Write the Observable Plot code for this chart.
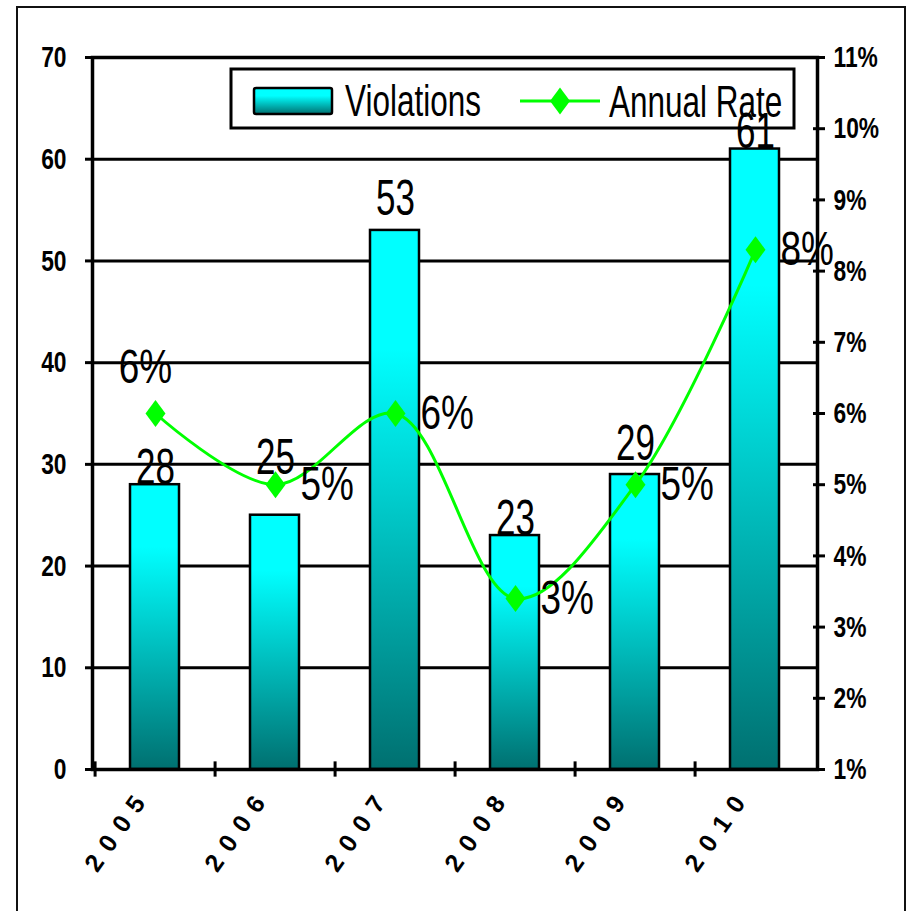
<!DOCTYPE html>
<html><head><meta charset="utf-8">
<script src="https://cdn.jsdelivr.net/npm/d3@7"></script>
<script src="https://cdn.jsdelivr.net/npm/@observablehq/plot@0.6"></script>
<style>
body{margin:0;background:#fff;}
#wrap{position:relative;width:909px;height:911px;overflow:hidden;background:#fff;}
#legend,#chart{position:absolute;left:0;top:0;}
#frame{position:absolute;left:16px;top:6px;width:890px;height:930px;border:2px solid #111;box-sizing:border-box;pointer-events:none;}
</style></head>
<body><div id="wrap"><svg id="legend" width="909" height="911"></svg><div id="chart"></div><div id="frame"></div></div>
<script>
// ---- data ----
const years = ["2005", "2006", "2007", "2008", "2009", "2010"];
const violations = [28, 25, 53, 23, 29, 61];
const rates = [6.0, 5.0, 6.0, 3.4, 5.0, 8.3];           // annual rate, %
const rateLabels = ["6%", "5%", "6%", "3%", "5%", "8%"];
const leftTicks = [0, 10, 20, 30, 40, 50, 60, 70];
const rightTicks = [1, 2, 3, 4, 5, 6, 7, 8, 9, 10, 11];  // %
const seriesNames = ["Violations", "Annual Rate"];

// right axis (1%..11%) mapped onto left axis (0..70)
const toLeft = r => (r - 1) * 7;
const table = years.map((y, i) => ({year: y, v: violations[i], r: rates[i], rv: toLeft(rates[i]), label: rateLabels[i]}));

const W = 909, H = 911, ML = 92, MR = 92, MT = 57, MB = 142;
const step = (W - ML - MR) / years.length;
const FONT = "'Liberation Sans', Arial, sans-serif";
const GREEN = "#00FF00";

const diamond = {
  draw(ctx, size) {
    const s = Math.sqrt(size / Math.PI);
    ctx.moveTo(0, -1.35 * s); ctx.lineTo(s, 0); ctx.lineTo(0, 1.35 * s); ctx.lineTo(-s, 0); ctx.closePath();
  }
};

const defs = () => {
  const d = d3.create("svg:defs");
  const g = d.append("linearGradient").attr("id", "barGrad").attr("x1", 0).attr("y1", 0).attr("x2", 0).attr("y2", 1);
  g.append("stop").attr("offset", "0%").attr("stop-color", "#00FFFF");
  g.append("stop").attr("offset", "22%").attr("stop-color", "#00FFFF");
  g.append("stop").attr("offset", "100%").attr("stop-color", "#007070");
  return d.node();
};

// value labels: the original has hand-nudged label heights
const barLabel = (years, dy) => Plot.text(table, {
  filter: d => years.includes(d.year), x: "year", y: "v", text: d => String(d.v),
  lineAnchor: "bottom", dy, fontSize: 50, fill: "black"
});

const chart = Plot.plot({
  width: W, height: H,
  marginLeft: ML, marginRight: MR, marginTop: MT, marginBottom: MB,
  style: {fontFamily: FONT, background: "transparent", color: "black", overflow: "visible"},
  x: {domain: years, padding: 0, label: null},
  y: {domain: [0, 70], label: null},
  marks: [
    defs,
    Plot.ruleY(leftTicks.filter(t => t > 0 && t < 70), {stroke: "black", strokeWidth: 3}),
    Plot.barY(table, {x: "year", y: "v", fill: "url(#barGrad)", stroke: "black", strokeWidth: 2.5, insetLeft: 35, insetRight: 36}),
    Plot.frame({stroke: "black", strokeWidth: 3.5}),
    Plot.ruleX(years, {x: d => d, dx: -step / 2, y1: -0.75, y2: 0.75, stroke: "black", strokeWidth: 3}),
    Plot.axisY({ticks: leftTicks, tickSize: 7, tickPadding: 19, fontSize: 30, fontWeight: "bold", strokeWidth: 3, label: null}),
    Plot.axisY({ticks: rightTicks.map(toLeft), anchor: "right", tickSize: 12, dx: -5, tickFormat: () => "", strokeWidth: 3, label: null}),
    Plot.axisY({ticks: rightTicks.map(toLeft), anchor: "right", tickSize: 0, tickPadding: 16, fontSize: 30, fontWeight: "bold",
      tickFormat: d => `${Math.round(d / 7 + 1)}%`, label: null}),
    Plot.axisX({tickSize: 0, tickRotate: -55, tickPadding: 21, dx: -10, fontSize: 25, fontWeight: "bold", label: null}),
    Plot.line(table, {x: "year", y: "rv", stroke: GREEN, strokeWidth: 3, curve: "catmull-rom"}),
    Plot.dot(table, {x: "year", y: "rv", symbol: diamond, r: 10, fill: GREEN, stroke: "none"}),
    barLabel(["2005", "2008", "2010"], -1),
    barLabel(["2007", "2009"], -15),
    barLabel(["2006"], -41),
    Plot.text(table.slice(0, 1), {x: "year", y: "rv", text: "label", lineAnchor: "bottom", dx: -10, dy: -31, fontSize: 48, fill: "black"}),
    Plot.text(table.slice(1), {x: "year", y: "rv", text: "label", textAnchor: "start", lineAnchor: "middle", dx: 25, fontSize: 48, fill: "black"})
  ]
});
document.getElementById("chart").appendChild(chart);

// condensed text rendering (narrow glyphs like the original)
function condense(sel, k) {
  sel.each(function () {
    const t = this.getAttribute("transform") || "";
    let x = 0;
    if (this.hasAttribute("x")) { x = +this.getAttribute("x") || 0; this.removeAttribute("x"); }
    this.setAttribute("transform", `${t} translate(${x},0) scale(${k},1)`);
  });
}
const root = d3.select(chart);
root.selectAll('g[aria-label="text"] text').each(function () {
  const isPct = /%$/.test(this.textContent);
  condense(d3.select(this), isPct ? 0.77 : 0.7);
});
condense(root.selectAll('g[aria-label="y-axis tick label"] text'), 0.76);
root.selectAll('g[aria-label="x-axis tick label"] text').style("letter-spacing", "10px").style("font-weight", "900");

// legend (drawn beneath the chart so data labels overlay it)
const lg = d3.select("#legend");
const ld = lg.append("defs").append("linearGradient").attr("id", "lgGrad").attr("x1", 0).attr("y1", 0).attr("x2", 0).attr("y2", 1);
ld.append("stop").attr("offset", "0%").attr("stop-color", "#00FFFF");
ld.append("stop").attr("offset", "30%").attr("stop-color", "#00FFFF");
ld.append("stop").attr("offset", "100%").attr("stop-color", "#007070");
lg.append("rect").attr("x", 231).attr("y", 69).attr("width", 563).attr("height", 59).attr("fill", "white").attr("stroke", "black").attr("stroke-width", 3);
lg.append("rect").attr("x", 254).attr("y", 88).attr("width", 78).attr("height", 26).attr("rx", 2).attr("fill", "url(#lgGrad)").attr("stroke", "black").attr("stroke-width", 2.5);
lg.append("text").attr("transform", "translate(345,116) scale(0.7,1)").attr("font-family", FONT).attr("font-size", 45).text(seriesNames[0]);
lg.append("line").attr("x1", 520).attr("x2", 600).attr("y1", 101).attr("y2", 101).attr("stroke", GREEN).attr("stroke-width", 3);
lg.append("path").attr("d", "M560,87.5L570,101L560,114.5L550,101Z").attr("fill", GREEN);
lg.append("text").attr("transform", "translate(609,117) scale(0.7,1)").attr("font-family", FONT).attr("font-size", 45).text(seriesNames[1]);
</script>
</body></html>
